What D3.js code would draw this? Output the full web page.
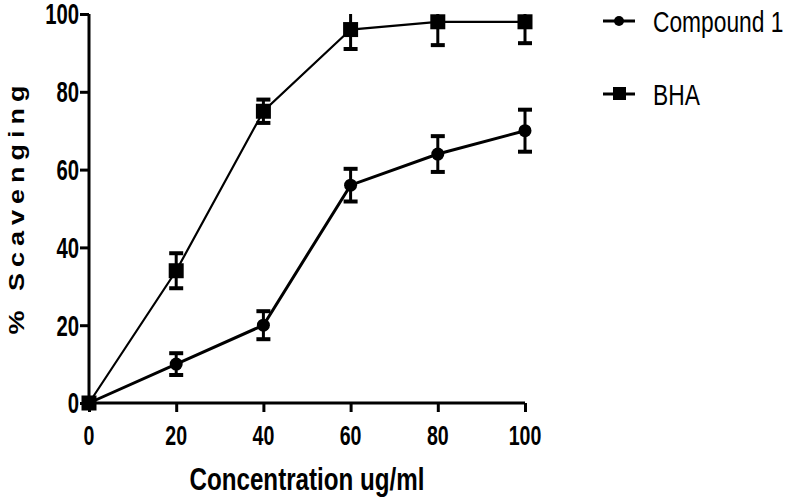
<!DOCTYPE html>
<html>
<head>
<meta charset="utf-8">
<script src="https://cdn.jsdelivr.net/npm/d3@7"></script>
<style>
  body { margin: 0; background: #fff; }
  svg { display: block; }
</style>
</head>
<body>
<div id="container"></div>
<script>
/* ---------- DATA ---------- */
const concentrations = [0, 20, 40, 60, 80, 100];
const compound1 = [0, 10, 20, 56, 64, 70];
const compound1Err = [0, 2.8, 3.6, 4.2, 4.6, 5.4];
const bha = [0, 34, 75, 96, 98, 98];
const bhaErr = [0, 4.5, 3, 5, 6, 5.5];
const xTicks = [0, 20, 40, 60, 80, 100];
const yTicks = [0, 20, 40, 60, 80, 100];

/* ---------- CONSTANTS ---------- */
const width = 787,
  height = 500,
  margin = { top: 14, bottom: 97, left: 89, right: 262 };
const sx = 0.7; // horizontal squeeze for the narrow bold labels

const svg = d3.select("#container")
  .append("svg")
  .attr("width", width)
  .attr("height", height);

const xScale = d3.scaleLinear()
  .domain([0, 100])
  .range([margin.left, width - margin.right]);

const yScale = d3.scaleLinear()
  .domain([0, 100])
  .range([height - margin.bottom, margin.top]);

const font = "'Liberation Sans', Arial, sans-serif";

// + AXES
const gx = svg.append("g")
  .attr("transform", `translate(0,${height - margin.bottom})`)
  .call(d3.axisBottom(xScale).tickValues(xTicks).tickSize(9).tickFormat(""));
const gy = svg.append("g")
  .attr("transform", `translate(${margin.left},0)`)
  .call(d3.axisLeft(yScale).tickValues(yTicks).tickSize(9).tickFormat(""));

gx.select(".domain").attr("d", `M${xScale(0)},0H${xScale(100)}`);
gy.select(".domain").attr("d", `M0,${yScale(0)}V${yScale(100)}`);
[gx, gy].forEach(g => {
  g.select(".domain").attr("stroke", "#000").attr("stroke-width", 3);
  g.selectAll(".tick line").attr("stroke", "#000").attr("stroke-width", 3);
});

// tick labels (squeezed bold)
svg.append("g").selectAll("text")
  .data(xTicks)
  .join("text")
  .attr("x", d => xScale(d) / sx)
  .attr("y", 445)
  .attr("transform", `scale(${sx},1)`)
  .attr("text-anchor", "middle")
  .style("font-family", font)
  .style("font-weight", "bold")
  .style("font-size", "28px")
  .text(d => d);

svg.append("g").selectAll("text")
  .data(yTicks)
  .join("text")
  .attr("x", 79 / sx)
  .attr("y", d => yScale(d))
  .attr("dy", "0.36em")
  .attr("transform", `scale(${sx},1)`)
  .attr("text-anchor", "end")
  .style("font-family", font)
  .style("font-weight", "bold")
  .style("font-size", "29px")
  .text(d => d);

// + AXIS TITLES
svg.append("text")
  .attr("x", 307 / 0.78)
  .attr("y", 490)
  .attr("transform", "scale(0.78,1)")
  .attr("text-anchor", "middle")
  .style("font-family", font)
  .style("font-weight", "bold")
  .style("font-size", "31px")
  .text("Concentration ug/ml");

svg.append("text")
  .attr("transform", `translate(24,207) rotate(-90) scale(1,0.85)`)
  .attr("text-anchor", "middle")
  .style("font-family", font)
  .style("font-weight", "bold")
  .style("font-size", "27px")
  .style("letter-spacing", "6px")
  .text("% Scavenging");

/* ---------- SERIES ---------- */
const series = [
  { name: "Compound 1", values: compound1, errs: compound1Err, shape: "circle", lw: 3 },
  { name: "BHA", values: bha, errs: bhaErr, shape: "square", lw: 2.2 }
];

const line = d3.line()
  .x((d, i) => xScale(concentrations[i]))
  .y(d => yScale(d));

svg.append("clipPath").attr("id", "plot-clip")
  .append("rect")
  .attr("x", 0).attr("y", yScale(100))
  .attr("width", width).attr("height", height);

series.forEach(s => {
  const g = svg.append("g");
  g.append("path")
    .datum(s.values)
    .attr("fill", "none")
    .attr("stroke", "#000")
    .attr("stroke-width", s.lw)
    .attr("d", line);

  // error bars
  const eb = g.append("g").attr("clip-path", "url(#plot-clip)");
  s.values.forEach((v, i) => {
    if (!s.errs[i]) return;
    const x = xScale(concentrations[i]);
    const y1 = yScale(v + s.errs[i]), y2 = yScale(v - s.errs[i]);
    eb.append("line").attr("x1", x).attr("x2", x).attr("y1", y1).attr("y2", y2)
      .attr("stroke", "#000").attr("stroke-width", 3);
    [y1, y2].forEach(y => eb.append("line")
      .attr("x1", x - 7).attr("x2", x + 7).attr("y1", y).attr("y2", y)
      .attr("stroke", "#000").attr("stroke-width", 4));
  });

  // markers
  s.values.forEach((v, i) => {
    const x = xScale(concentrations[i]), y = yScale(v);
    if (s.shape === "circle") {
      g.append("circle").attr("cx", x).attr("cy", y).attr("r", 6.5).attr("fill", "#000");
    } else {
      g.append("rect").attr("x", x - 7.5).attr("y", y - 7.5)
        .attr("width", 15).attr("height", 15).attr("fill", "#000");
    }
  });
});

/* ---------- LEGEND ---------- */
const legendY = [21, 94];
series.forEach((s, i) => {
  const g = svg.append("g").attr("transform", `translate(603,${legendY[i]})`);
  g.append("line").attr("x1", 0).attr("x2", 32).attr("y1", 0).attr("y2", 0)
    .attr("stroke", "#000").attr("stroke-width", 3);
  if (s.shape === "circle") {
    g.append("circle").attr("cx", 16).attr("cy", 0).attr("r", 5).attr("fill", "#000");
  } else {
    g.append("rect").attr("x", 10).attr("y", -7).attr("width", 13).attr("height", 13).attr("fill", "#000");
  }
  g.append("text")
    .attr("x", 50 / 0.76)
    .attr("y", 0)
    .attr("dy", "0.36em")
    .attr("transform", "scale(0.76,1)")
    .style("font-family", font)
    .style("font-size", "30px")
    .text(s.name);
});
</script>
</body>
</html>
